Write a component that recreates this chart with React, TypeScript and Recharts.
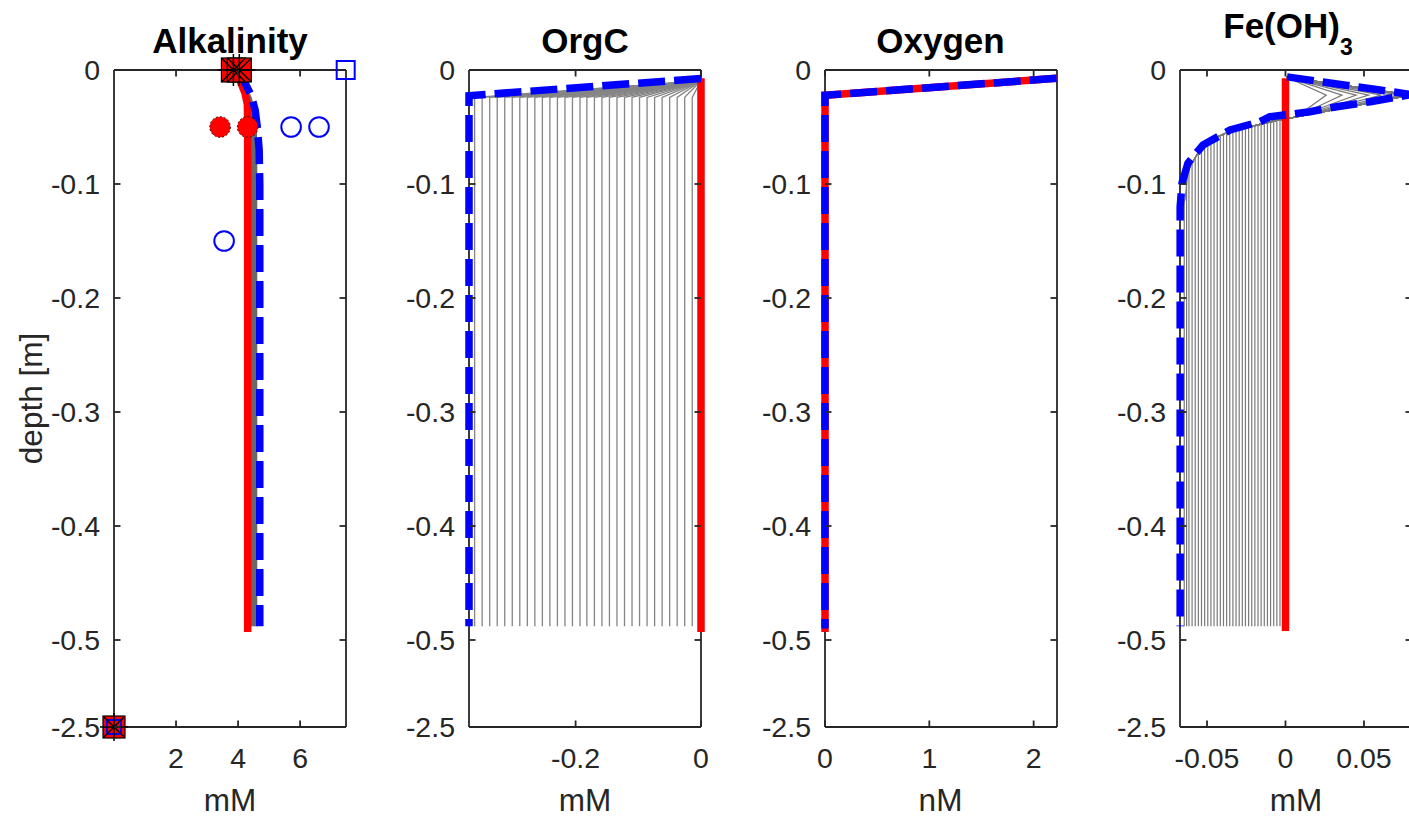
import React from 'react';
import { ScatterChart, Scatter, XAxis, YAxis, ReferenceLine } from 'recharts';

// ---------- styling constants ----------
const FONT = '"Liberation Sans", Arial, Helvetica, sans-serif';
const INK = '#262626';
const RED = '#ff0000';
const BLUE = '#0000ff';
const GREY = '#858585';
const AXIS_W = 1.8;
const TICK_LEN = 6.5;
const TICK_FS = 28.5;
const LABEL_FS = 31.5;
const TITLE_FS = 35;

// ---------- layout ----------
const PLOT_TOP = 70;
const PLOT_BOTTOM = 727;
const PLOT_W = 232;
const YAXIS_W = 110;
const RIGHT_PAD = 20;
const CHART_H = 820;
const PANEL_LEFTS = [114, 469, 824.5, 1180];

// ---------- depth axis (broken scale: 0..-0.5 linear, then compressed to -2.5) ----------
const DEPTH_BREAK = -0.5;
const DEPTH_COMPRESS = 0.03816;
const toAxis = (d: number) => (d >= DEPTH_BREAK ? d : DEPTH_BREAK + (d - DEPTH_BREAK) * DEPTH_COMPRESS);
const Y_TICK_DEPTHS = [0, -0.1, -0.2, -0.3, -0.4, -0.5, -2.5];
const Y_TICK_LABELS = ['0', '-0.1', '-0.2', '-0.3', '-0.4', '-0.5', '-2.5'];
const Y_MIN = toAxis(-2.5);

// ---------- Alkalinity ----------
const ALK_X_DOMAIN = [0, 7.48];
const ALK_X_TICKS = [2, 4, 6];
const ALK_X_LABELS = ['2', '4', '6'];
const ALK_RED_X = [3.94, 4.1, 4.22, 4.3, 4.31, 4.31];
const ALK_RED_D = [0, -0.012, -0.02, -0.03, -0.05, -0.493];
const ALK_BLUE_X = [3.94, 4.2, 4.42, 4.55, 4.62, 4.68, 4.7, 4.7];
const ALK_BLUE_D = [0, -0.01, -0.022, -0.035, -0.05, -0.07, -0.1, -0.488];
const ALK_GREY_D = [0, -0.012, -0.025, -0.04, -0.06, -0.488];
const ALK_GREY_1 = [3.94, 4.14, 4.3, 4.38, 4.4, 4.4];
const ALK_GREY_2 = [3.94, 4.16, 4.34, 4.43, 4.46, 4.46];
const ALK_GREY_3 = [3.94, 4.18, 4.38, 4.48, 4.52, 4.52];
const ALK_GREY_4 = [3.94, 4.19, 4.41, 4.53, 4.58, 4.58];
const ALK_TOP_SQ_X = [3.85, 4.04];
const ALK_TOP_SQ_D = [0, 0];
const ALK_RED_CIRC_X = [3.42, 4.31];
const ALK_RED_CIRC_D = [-0.05, -0.05];
const ALK_BLUE_CIRC_X = [5.71, 6.61, 3.55];
const ALK_BLUE_CIRC_D = [-0.05, -0.05, -0.15];
const ALK_BLUE_SQ_X = [7.47];
const ALK_BLUE_SQ_D = [0];
const ALK_BOTTOM_X = [0];
const ALK_BOTTOM_D = [-2.5];

// ---------- OrgC ----------
const ORG_X_DOMAIN = [-0.37, 0];
const ORG_X_TICKS = [-0.2, 0];
const ORG_X_LABELS = ['-0.2', '0'];
const ORG_RED_X = [0, 0];
const ORG_RED_D = [-0.0073, -0.493];
const ORG_BLUE_X = [0, -0.37, -0.37];
const ORG_BLUE_D = [-0.0075, -0.0225, -0.488];
const ORG_GREY_FINAL = [
  -0.361, -0.349, -0.337, -0.325, -0.313, -0.301, -0.289, -0.277, -0.265, -0.253,
  -0.241, -0.229, -0.217, -0.205, -0.193, -0.182, -0.17, -0.158, -0.146, -0.134,
  -0.122, -0.11, -0.098, -0.086, -0.074, -0.062, -0.05, -0.038, -0.026, -0.014,
];
const ORG_GREY_TOP_D = -0.0095;
const ORG_GREY_BEND_D = -0.024;
const ORG_GREY_BOTTOM_D = -0.488;

// ---------- Oxygen ----------
const OXY_X_DOMAIN = [0, 2.224];
const OXY_X_TICKS = [0, 1, 2];
const OXY_X_LABELS = ['0', '1', '2'];
const OXY_RED_X = [2.22, 0, 0];
const OXY_RED_D = [-0.0073, -0.0222, -0.493];
const OXY_BLUE_X = [2.22, 0, 0];
const OXY_BLUE_D = [-0.0073, -0.0222, -0.49];

// ---------- Fe(OH)3 ----------
const FE_X_DOMAIN = [-0.0672, 0.0806];
const FE_X_TICKS = [-0.05, 0, 0.05];
const FE_X_LABELS = ['-0.05', '0', '0.05'];
const FE_RED_X = [0, 0];
const FE_RED_D = [-0.0073, -0.492];
const FE_BLUE_X = [0.001, 0.08, 0.0541, 0.0326, 0.0156, -0.0099, -0.0162, -0.0353, -0.0525, -0.0621, -0.0659, -0.0671, -0.0671];
const FE_BLUE_D = [-0.006, -0.0215, -0.0278, -0.0322, -0.0366, -0.041, -0.0453, -0.0526, -0.0658, -0.0816, -0.0991, -0.12, -0.488];
const FE_GREY_TOP_X = 0.0005;
const FE_GREY_TOP_D = -0.0062;
const FE_GREY_PEAK_D = -0.022;
const FE_GREY_BOTTOM_D = -0.488;
const FE_ENVELOPE_X = [0.0067, -0.0048, -0.0258, -0.0366, -0.0475, -0.0557, -0.0621, -0.064];
const FE_ENVELOPE_D = [-0.0412, -0.0439, -0.0509, -0.0544, -0.0614, -0.0728, -0.0877, -0.114];
const FE_GREY_FINAL = [
  -0.0035, -0.0055, -0.0075, -0.0095, -0.0115, -0.0135, -0.0155, -0.0175, -0.0195, -0.0215,
  -0.0235, -0.0255, -0.0275, -0.0295, -0.0315, -0.0335, -0.0355, -0.0375, -0.0395, -0.0415,
  -0.0435, -0.0455, -0.0475, -0.0495, -0.0515, -0.0535, -0.0555, -0.0575, -0.0595, -0.0615,
  -0.063, -0.0645,
];
const FE_GREY_PEEL = [
  -0.0436, -0.0442, -0.045, -0.0456, -0.0462, -0.047, -0.0476, -0.0482, -0.049, -0.0496,
  -0.0502, -0.051, -0.0515, -0.052, -0.0526, -0.0534, -0.054, -0.0549, -0.056, -0.0576,
  -0.0588, -0.06, -0.0612, -0.0638, -0.0668, -0.0697, -0.0726, -0.0768, -0.0815, -0.0862,
  -0.096, -0.114,
];
const FE_GREY_PEAK = [
  0.026, 0.036, 0.045, 0.053, 0.061, 0.068, 0.074, 0.078, 0.08, 0.08,
  0.08, 0.08, 0.08, 0.08, 0.08, 0.08, 0.08, 0.08, 0.08, 0.08,
  0.08, 0.08, 0.08, 0.08, 0.08, 0.08, 0.08, 0.08, 0.08, 0.08,
  0.08, 0.08,
];

// ---------- helpers ----------
type Pt = { x: number; y: number };
type LineSpec = { pts: Pt[]; stroke: string; width: number; dash?: string };
type MarkerSpec = { pts: Pt[]; shape: (p: any) => React.ReactElement };

const prof = (xs: number[], ds: number[]): Pt[] => xs.map((x, i) => ({ x, y: toAxis(ds[i]) }));

const orgGrey = (): LineSpec[] =>
  ORG_GREY_FINAL.map((xf) => ({
    pts: prof([0, xf, xf], [ORG_GREY_TOP_D, ORG_GREY_BEND_D, ORG_GREY_BOTTOM_D]),
    stroke: GREY,
    width: 1.3,
  }));

const feGrey = (): LineSpec[] =>
  FE_GREY_FINAL.map((xf, i) => {
    const xs = [FE_GREY_TOP_X, FE_GREY_PEAK[i]];
    const ds = [FE_GREY_TOP_D, FE_GREY_PEAK_D];
    FE_ENVELOPE_X.forEach((ex, j) => {
      if (ex > xf) {
        xs.push(ex);
        ds.push(FE_ENVELOPE_D[j]);
      }
    });
    xs.push(xf, xf);
    ds.push(FE_GREY_PEEL[i], FE_GREY_BOTTOM_D);
    return { pts: prof(xs, ds), stroke: '#7a7a7a', width: 1.2 };
  });

// ---------- marker shapes ----------
const Asterisk = (cx: number, cy: number, r: number) => {
  const q = r * 0.72;
  return (
    <g stroke="#000" strokeWidth={1.5}>
      <line x1={cx} x2={cx} y1={cy - r} y2={cy + r} />
      <line x1={cx - r} x2={cx + r} y1={cy} y2={cy} />
      <line x1={cx - q} x2={cx + q} y1={cy - q} y2={cy + q} />
      <line x1={cx - q} x2={cx + q} y1={cy + q} y2={cy - q} />
    </g>
  );
};
const RedSquareShape = (p: any) => (
  <rect x={p.cx - 12} y={p.cy - 12} width={24} height={24} fill={RED} stroke="#000" strokeWidth={1.2} />
);
const AsteriskShape = (p: any) => Asterisk(p.cx, p.cy, 16);
const RedCircleShape = (p: any) => (
  <circle cx={p.cx} cy={p.cy} r={10.3} fill={RED} stroke="#4a0000" strokeWidth={1} strokeDasharray="2 2" />
);
const BlueCircleShape = (p: any) => (
  <circle cx={p.cx} cy={p.cy} r={9.8} fill="none" stroke={BLUE} strokeWidth={2} />
);
const BlueSquareShape = (p: any) => (
  <rect x={p.cx - 9} y={p.cy - 9} width={18} height={18} fill="none" stroke={BLUE} strokeWidth={2} />
);
const BottomMarkerShape = (p: any) => (
  <g>
    <rect x={p.cx - 11} y={p.cy - 11} width={22} height={22} fill={RED} stroke="#000" strokeWidth={1.2} />
    <rect x={p.cx - 7} y={p.cy - 7} width={14} height={14} fill="none" stroke={BLUE} strokeWidth={2} />
    {Asterisk(p.cx, p.cy, 14)}
  </g>
);
const NoShape = () => <g />;

// ---------- panel ----------
type PanelProps = {
  plotLeft: number;
  xDomain: number[];
  xTicks: number[];
  xLabels: string[];
  lines: LineSpec[];
  markers: MarkerSpec[];
};

function Panel({ plotLeft, xDomain, xTicks, xLabels, lines, markers }: PanelProps) {
  const PL = YAXIS_W;
  const PR = YAXIS_W + PLOT_W;
  const chartW = YAXIS_W + PLOT_W + RIGHT_PAD;

  const yTick = (p: any) => {
    const y = p.y;
    const label = Y_TICK_LABELS[p.index] ?? '';
    return (
      <g>
        <text x={PL - 14} y={y + 10} textAnchor="end" fontSize={TICK_FS} fontFamily={FONT} fill={INK}>
          {label}
        </text>
        <line x1={PL} x2={PL + TICK_LEN} y1={y} y2={y} stroke={INK} strokeWidth={AXIS_W} />
        <line x1={PR - TICK_LEN} x2={PR} y1={y} y2={y} stroke={INK} strokeWidth={AXIS_W} />
      </g>
    );
  };
  const xTick = (p: any) => {
    const x = p.x;
    const label = xLabels[p.index] ?? '';
    return (
      <g>
        <text x={x} y={PLOT_BOTTOM + 41} textAnchor="middle" fontSize={TICK_FS} fontFamily={FONT} fill={INK}>
          {label}
        </text>
        <line x1={x} x2={x} y1={PLOT_BOTTOM - TICK_LEN} y2={PLOT_BOTTOM} stroke={INK} strokeWidth={AXIS_W} />
        <line x1={x} x2={x} y1={PLOT_TOP} y2={PLOT_TOP + TICK_LEN} stroke={INK} strokeWidth={AXIS_W} />
      </g>
    );
  };

  return (
    <div style={{ position: 'absolute', left: plotLeft - YAXIS_W, top: 0 }}>
      <ScatterChart
        width={chartW}
        height={CHART_H}
        margin={{ top: PLOT_TOP, right: RIGHT_PAD, bottom: 0, left: 0 }}
      >
        <XAxis
          type="number"
          dataKey="x"
          domain={xDomain}
          ticks={xTicks}
          interval={0}
          height={CHART_H - PLOT_BOTTOM}
          tick={xTick}
          tickLine={false}
          axisLine={{ stroke: INK, strokeWidth: AXIS_W }}
        />
        <YAxis
          type="number"
          dataKey="y"
          domain={[Y_MIN, 0]}
          ticks={Y_TICK_DEPTHS.map(toAxis)}
          interval={0}
          width={YAXIS_W}
          tick={yTick}
          tickLine={false}
          axisLine={{ stroke: INK, strokeWidth: AXIS_W }}
        />
        <ReferenceLine y={0} stroke={INK} strokeWidth={AXIS_W} />
        <ReferenceLine x={xDomain[1]} stroke={INK} strokeWidth={AXIS_W} />
        {lines.map((l, i) => (
          <Scatter
            key={'l' + i}
            data={l.pts}
            line={{ stroke: l.stroke, strokeWidth: l.width, strokeDasharray: l.dash }}
            shape={NoShape}
            isAnimationActive={false}
          />
        ))}
        {markers.map((m, i) => (
          <Scatter key={'m' + i} data={m.pts} shape={m.shape} isAnimationActive={false} />
        ))}
      </ScatterChart>
    </div>
  );
}

const DASH = '27 9';

export default function App() {
  const alkLines: LineSpec[] = [
    { pts: prof(ALK_GREY_1, ALK_GREY_D), stroke: '#6a6a6a', width: 2.5 },
    { pts: prof(ALK_GREY_2, ALK_GREY_D), stroke: '#6a6a6a', width: 2.5 },
    { pts: prof(ALK_GREY_3, ALK_GREY_D), stroke: '#6a6a6a', width: 2.5 },
    { pts: prof(ALK_GREY_4, ALK_GREY_D), stroke: '#6a6a6a', width: 2.5 },
    { pts: prof(ALK_RED_X, ALK_RED_D), stroke: RED, width: 7.5 },
    { pts: prof(ALK_BLUE_X, ALK_BLUE_D), stroke: BLUE, width: 7.5, dash: DASH },
  ];
  const alkMarkers: MarkerSpec[] = [
    { pts: prof(ALK_RED_CIRC_X, ALK_RED_CIRC_D), shape: RedCircleShape },
    { pts: prof(ALK_BLUE_CIRC_X, ALK_BLUE_CIRC_D), shape: BlueCircleShape },
    { pts: prof(ALK_BLUE_SQ_X, ALK_BLUE_SQ_D), shape: BlueSquareShape },
    { pts: prof(ALK_TOP_SQ_X, ALK_TOP_SQ_D), shape: RedSquareShape },
    { pts: prof(ALK_TOP_SQ_X, ALK_TOP_SQ_D), shape: AsteriskShape },
    { pts: prof(ALK_BOTTOM_X, ALK_BOTTOM_D), shape: BottomMarkerShape },
  ];
  const orgLines: LineSpec[] = [
    ...orgGrey(),
    { pts: prof(ORG_RED_X, ORG_RED_D), stroke: RED, width: 7.5 },
    { pts: prof(ORG_BLUE_X, ORG_BLUE_D), stroke: BLUE, width: 7.5, dash: DASH },
  ];
  const oxyLines: LineSpec[] = [
    { pts: prof(OXY_RED_X, OXY_RED_D), stroke: RED, width: 7.5 },
    { pts: prof(OXY_BLUE_X, OXY_BLUE_D), stroke: BLUE, width: 7.5, dash: DASH },
  ];
  const feLines: LineSpec[] = [
    ...feGrey(),
    { pts: prof(FE_RED_X, FE_RED_D), stroke: RED, width: 7.5 },
    { pts: prof(FE_BLUE_X, FE_BLUE_D), stroke: BLUE, width: 7.5, dash: DASH },
  ];

  const centers = PANEL_LEFTS.map((l) => l + PLOT_W / 2);
  const titles = ['Alkalinity', 'OrgC', 'Oxygen'];
  const xAxisLabels = ['mM', 'mM', 'nM', 'mM'];

  return (
    <div
      style={{
        position: 'absolute',
        left: 0,
        top: 0,
        width: 1409,
        height: 820,
        overflow: 'hidden',
        background: '#fff',
      }}
    >
      <Panel plotLeft={PANEL_LEFTS[0]} xDomain={ALK_X_DOMAIN} xTicks={ALK_X_TICKS} xLabels={ALK_X_LABELS} lines={alkLines} markers={alkMarkers} />
      <Panel plotLeft={PANEL_LEFTS[1]} xDomain={ORG_X_DOMAIN} xTicks={ORG_X_TICKS} xLabels={ORG_X_LABELS} lines={orgLines} markers={[]} />
      <Panel plotLeft={PANEL_LEFTS[2]} xDomain={OXY_X_DOMAIN} xTicks={OXY_X_TICKS} xLabels={OXY_X_LABELS} lines={oxyLines} markers={[]} />
      <Panel plotLeft={PANEL_LEFTS[3]} xDomain={FE_X_DOMAIN} xTicks={FE_X_TICKS} xLabels={FE_X_LABELS} lines={feLines} markers={[]} />
      <svg width={1409} height={820} style={{ position: 'absolute', left: 0, top: 0, pointerEvents: 'none' }}>
        {titles.map((t, i) => (
          <text key={t} x={centers[i]} y={53} textAnchor="middle" fontSize={TITLE_FS} fontWeight="bold" fontFamily={FONT} fill="#000">
            {t}
          </text>
        ))}
        <text x={centers[3] - 8} y={38} textAnchor="middle" fontSize={TITLE_FS} fontWeight="bold" fontFamily={FONT} fill="#000">
          Fe(OH)
          <tspan fontSize={23} dy={17}>3</tspan>
        </text>
        {xAxisLabels.map((t, i) => (
          <text key={i} x={centers[i]} y={811} textAnchor="middle" fontSize={LABEL_FS} fontFamily={FONT} fill={INK}>
            {t}
          </text>
        ))}
        <text
          x={0}
          y={0}
          transform={`translate(42, ${(PLOT_TOP + PLOT_BOTTOM) / 2}) rotate(-90)`}
          textAnchor="middle"
          fontSize={LABEL_FS}
          fontFamily={FONT}
          fill={INK}
        >
          depth [m]
        </text>
      </svg>
    </div>
  );
}
